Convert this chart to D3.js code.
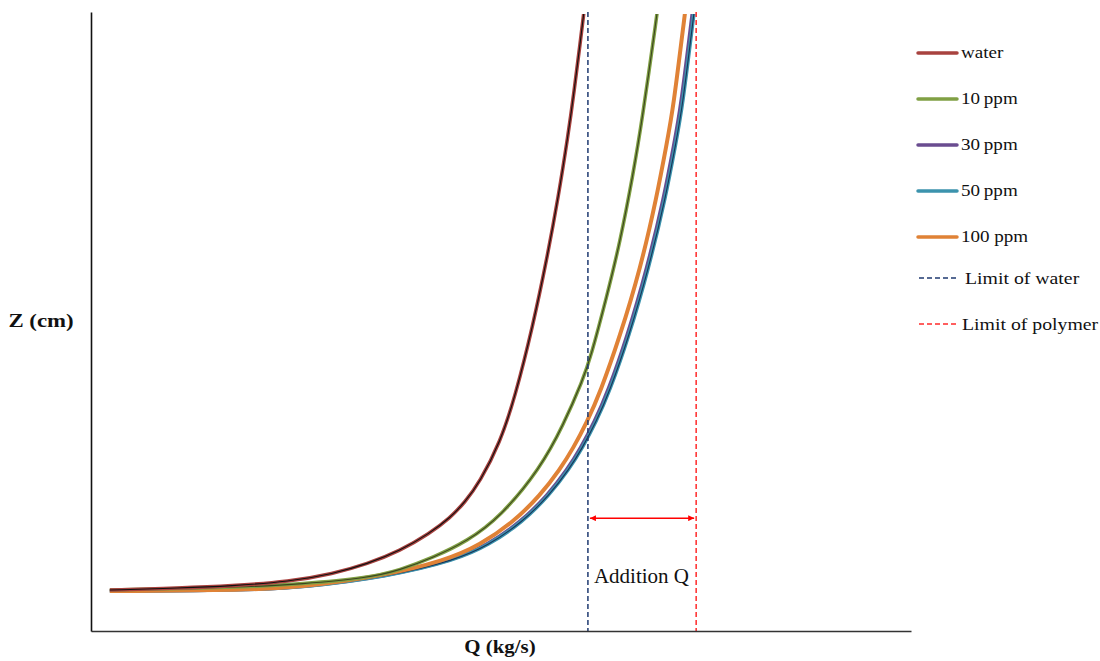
<!DOCTYPE html>
<html>
<head>
<meta charset="utf-8">
<script src="https://cdn.jsdelivr.net/npm/d3@7"></script>
<style>
  body { margin: 0; background: #fff; }
  text { font-family: "Liberation Serif", "Times New Roman", serif; fill: #111; }
</style>
</head>
<body>
<svg id="chart" width="1100" height="661"></svg>
<script>
// Q (kg/s) vs Z (cm) (arbitrary units, no ticks shown)
const waterPts = [[0.23,4.1],[1.09,4.3],[1.70,4.5],[2.43,4.96],[2.95,5.73],[3.37,6.72],[3.77,8.04],[4.13,9.78],[4.38,11.34],[4.56,12.9],[4.74,14.9],[4.99,18.9],[5.17,23.4],[5.39,30.6],[5.56,37.3],[5.70,43.5],[5.82,49.8],[5.88,53.3],[6.01,61.8],[6.09,67.6]];
const ppm10Pts = [[0.23,4.1],[1.94,4.4],[2.55,4.7],[3.37,5.3],[3.77,6.1],[4.17,7.35],[4.59,9.0],[4.99,11.4],[5.48,16.3],[5.76,20.6],[6.00,25.2],[6.09,27.3],[6.29,33.5],[6.45,38.9],[6.61,45.7],[6.72,51.1],[6.90,61.6],[6.96,65.4]];
const ppm30Pts = [[0.23,4.0],[1.94,4.1],[2.58,4.4],[3.59,5.44],[4.43,7.1],[4.83,8.6],[5.24,10.9],[5.57,13.6],[5.81,16.2],[5.97,18.3],[6.14,20.95],[6.30,23.9],[6.54,29.5],[6.78,36.3],[6.99,43.5],[7.11,48.8],[7.19,52.3],[7.33,61.7],[7.39,65.6]];
const ppm50Pts = [[0.23,4.0],[1.94,4.1],[2.60,4.4],[3.61,5.44],[4.45,7.1],[4.85,8.6],[5.26,10.9],[5.59,13.6],[5.83,16.2],[5.99,18.3],[6.16,20.95],[6.32,23.9],[6.56,29.5],[6.80,36.3],[7.01,43.5],[7.13,48.8],[7.21,52.3],[7.35,61.7],[7.41,65.6]];
const ppm100Pts = [[0.23,4.0],[1.94,4.1],[2.55,4.4],[3.52,5.44],[4.34,7.1],[4.74,8.6],[5.15,10.9],[5.48,13.6],[5.72,16.2],[5.88,18.3],[6.05,20.95],[6.21,23.9],[6.45,29.5],[6.70,36.3],[6.90,43.5],[7.02,48.8],[7.10,52.3],[7.24,61.7],[7.30,65.6]];

const seriesNames = ["water", "10\u2009ppm", "30\u2009ppm", "50\u2009ppm", "100 ppm"];
const seriesColors = ["#A8423F", "#80A044", "#6A4C90", "#3C93AD", "#E08236"];
const trendColors = ["#111", "#3b4420", null, "#17345a", null];
const seriesData = [waterPts, ppm10Pts, ppm30Pts, ppm50Pts, ppm100Pts];

const limitNames = ["Limit of water", "Limit of polymer"];
const limitColors = ["#1F3A70", "#FF2A2A"];
const limitQ = [6.06, 7.38];
const arrowZ = 11.3;
const arrowLabel = "Addition Q";

const svg = d3.select("#chart");
const margin = { top: 12, left: 91, right: 189, bottom: 30 };
const width = 1100 - margin.left - margin.right;
const height = 661 - margin.top - margin.bottom;

const x = d3.scaleLinear().domain([0, 10]).range([0, width]);
const y = d3.scaleLinear().domain([0, 62]).range([height, 0]);

const g = svg.append("g").attr("transform", `translate(${margin.left},${margin.top})`);

const defs = svg.append("defs");
defs.append("clipPath").attr("id", "plot-clip")
  .append("rect").attr("x", 0).attr("y", 2).attr("width", width).attr("height", height);

defs.append("marker").attr("id", "arrow-end")
  .attr("viewBox", "0 0 10 10").attr("refX", 10).attr("refY", 5)
  .attr("markerWidth", 4).attr("markerHeight", 4).attr("orient", "auto")
  .append("path").attr("d", "M0,0L10,5L0,10Z").attr("fill", "#FF0000");
defs.append("marker").attr("id", "arrow-start")
  .attr("viewBox", "0 0 10 10").attr("refX", 0).attr("refY", 5)
  .attr("markerWidth", 4).attr("markerHeight", 4).attr("orient", "auto")
  .append("path").attr("d", "M10,0L0,5L10,10Z").attr("fill", "#FF0000");

// stretch text horizontally to match the wide look of the original figure
function stretch(sel, k) {
  sel.each(function () {
    const len = this.getComputedTextLength();
    d3.select(this).attr("textLength", len * k).attr("lengthAdjust", "spacingAndGlyphs");
  });
}

// Curves
const line = d3.line().x(d => x(d[0])).y(d => y(d[1])).curve(d3.curveBasis);
const curves = g.append("g").attr("clip-path", "url(#plot-clip)");
const drawOrder = [2, 3, 4, 1, 0];
drawOrder.forEach(i => {
  curves.append("path").datum(seriesData[i])
    .attr("fill", "none").attr("stroke", seriesColors[i])
    .attr("stroke-width", i === 4 ? 4 : 3.6).attr("d", line);
  if (trendColors[i]) {
    curves.append("path").datum(seriesData[i])
      .attr("fill", "none").attr("stroke", trendColors[i])
      .attr("stroke-width", 1.1).attr("d", line);
  }
});

// Limit lines
limitQ.forEach((q, i) => {
  g.append("line")
    .attr("x1", x(q)).attr("x2", x(q))
    .attr("y1", 0).attr("y2", height)
    .attr("stroke", limitColors[i]).attr("stroke-width", 1.5)
    .attr("stroke-dasharray", "5,3");
});

// Addition arrow
g.append("line")
  .attr("x1", x(limitQ[0]) + 2).attr("x2", x(limitQ[1]) - 2)
  .attr("y1", y(arrowZ)).attr("y2", y(arrowZ))
  .attr("stroke", "#FF0000").attr("stroke-width", 1.5)
  .attr("marker-start", "url(#arrow-start)").attr("marker-end", "url(#arrow-end)");

g.append("text")
  .attr("x", x(limitQ[0]) + 6).attr("y", y(arrowZ) + 65)
  .style("font-size", "21px")
  .text(arrowLabel);

// Axes (no ticks)
g.append("g").attr("transform", `translate(0,${height})`)
  .call(d3.axisBottom(x).tickValues([]).tickSizeOuter(0))
  .select(".domain").attr("stroke", "#333").attr("stroke-width", 1.6);
g.append("g")
  .call(d3.axisLeft(y).tickValues([]).tickSizeOuter(0))
  .select(".domain").attr("stroke", "#111").attr("stroke-width", 1.6);

svg.append("text")
  .attr("x", 41).attr("y", 327)
  .attr("text-anchor", "middle")
  .style("font-size", "19px").style("font-weight", "bold")
  .text("Z (cm)")
  .call(stretch, 1.2);

svg.append("text")
  .attr("x", 500).attr("y", 653)
  .attr("text-anchor", "middle")
  .style("font-size", "19px").style("font-weight", "bold")
  .text("Q (kg/s)")
  .call(stretch, 1.1);

// Legend
const legend = svg.append("g").attr("transform", "translate(918,0)");
seriesNames.forEach((name, i) => {
  const ly = 53 + i * 46;
  legend.append("line")
    .attr("x1", 0).attr("x2", 39).attr("y1", ly).attr("y2", ly)
    .attr("stroke", seriesColors[i]).attr("stroke-width", 3.5)
    .attr("stroke-linecap", "round");
  legend.append("text")
    .attr("x", 43).attr("y", ly + 5)
    .style("font-size", "17px")
    .text(name)
    .call(stretch, 1.12);
});
limitNames.forEach((name, i) => {
  const ly = 278 + i * 46;
  legend.append("line")
    .attr("x1", 1).attr("x2", 38).attr("y1", ly).attr("y2", ly)
    .attr("stroke", limitColors[i]).attr("stroke-width", 1.5)
    .attr("stroke-dasharray", "5,3");
  legend.append("text")
    .attr("x", i === 0 ? 47 : 44).attr("y", ly + 6)
    .style("font-size", "17.5px")
    .text(name)
    .call(stretch, 1.13);
});
</script>
</body>
</html>
